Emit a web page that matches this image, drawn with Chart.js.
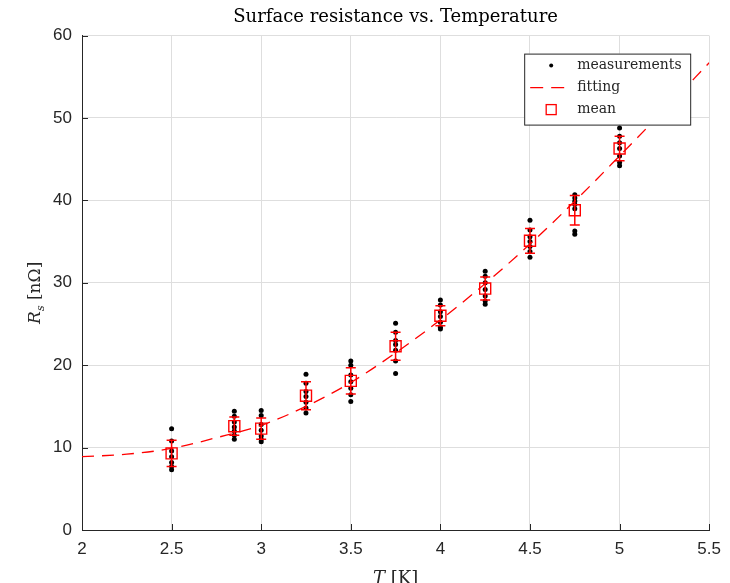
<!DOCTYPE html>
<html>
<head>
<meta charset="utf-8">
<title>Surface resistance vs. Temperature</title>
<script src="https://cdn.jsdelivr.net/npm/chart.js@4.4.1/dist/chart.umd.min.js"></script>
<style>
  html, body { margin: 0; padding: 0; background: #fff; }
  #wrap { width: 730px; height: 583px; }
</style>
</head>
<body>
<div id="wrap"><canvas id="rsChart" width="730" height="583"></canvas></div>
<script>
// Data
const chartTitle = 'Surface resistance vs. Temperature';
const temperatures = [2.5, 2.85, 3.0, 3.25, 3.5, 3.75, 4.0, 4.25, 4.5, 4.75, 5.0];
const measurements = [
  [12.3, 10.8, 9.6, 8.9, 8.2, 7.7, 7.3],
  [14.4, 13.8, 13.1, 12.5, 12.0, 11.5, 11.0],
  [14.5, 13.9, 12.8, 12.1, 11.4, 11.0, 10.7],
  [18.9, 17.8, 16.8, 16.2, 15.5, 14.8, 14.2],
  [20.5, 20.0, 18.8, 18.0, 17.2, 16.4, 15.6],
  [25.1, 24.0, 23.0, 22.5, 21.8, 20.5, 19.0],
  [27.9, 27.3, 26.5, 25.9, 25.2, 24.6, 24.4],
  [31.4, 30.8, 30.0, 29.2, 28.4, 27.8, 27.4],
  [37.6, 36.4, 35.6, 35.0, 34.4, 33.8, 33.1],
  [40.7, 40.3, 39.9, 39.5, 39.0, 36.3, 35.9],
  [48.8, 47.8, 47.0, 46.3, 45.4, 44.6, 44.2]
];
const meanValues = [9.3, 12.6, 12.3, 16.3, 18.1, 22.3, 26.0, 29.3, 35.1, 38.8, 46.3];
const meanErrors = [1.6, 1.1, 1.3, 1.7, 1.6, 1.7, 1.2, 1.4, 1.5, 1.8, 1.5];
const fitTemperatures = [2, 2.25, 2.5, 2.75, 3, 3.25, 3.5, 3.75, 4, 4.25, 4.5, 4.75, 5, 5.25, 5.5];
const fitValues = [8.9, 9.2, 9.9, 11.2, 12.7, 15.0, 17.9, 21.5, 25.5, 29.9, 34.7, 39.9, 45.4, 51.0, 56.7];
const xTicks = [2, 2.5, 3, 3.5, 4, 4.5, 5, 5.5];
const yTicks = [0, 10, 20, 30, 40, 50, 60];

const RED = '#ff0000';
const AXIS = '#262626';
const GRID = '#dedede';
const serif = '"DejaVu Serif", serif';
const sans = '"Liberation Sans", Arial, sans-serif';

// Error bars on the mean markers
const errorBars = {
  id: 'errorBars',
  afterDatasetsDraw(chart) {
    const { ctx, scales: { x, y } } = chart;
    ctx.save();
    ctx.strokeStyle = RED;
    ctx.lineWidth = 1.5;
    ctx.beginPath();
    temperatures.forEach((t, i) => {
      const px = x.getPixelForValue(t);
      const top = y.getPixelForValue(meanValues[i] + meanErrors[i]);
      const bot = y.getPixelForValue(meanValues[i] - meanErrors[i]);
      ctx.moveTo(px, top); ctx.lineTo(px, bot);
      ctx.moveTo(px - 5, top); ctx.lineTo(px + 5, top);
      ctx.moveTo(px - 5, bot); ctx.lineTo(px + 5, bot);
    });
    ctx.stroke();
    ctx.restore();
  }
};

// MATLAB style ticks pointing inwards, axis labels and legend box
const decorations = {
  id: 'decorations',
  afterDraw(chart) {
    const { ctx, chartArea: a, scales: { x, y } } = chart;
    ctx.save();
    ctx.strokeStyle = AXIS;
    ctx.lineWidth = 1;
    ctx.beginPath();
    xTicks.forEach(v => {
      const px = Math.round(x.getPixelForValue(v)) + 0.5;
      ctx.moveTo(px, a.bottom); ctx.lineTo(px, a.bottom - 6);
    });
    yTicks.forEach(v => {
      const py = Math.round(y.getPixelForValue(v)) + 0.5;
      ctx.moveTo(a.left, py); ctx.lineTo(a.left + 6, py);
    });
    ctx.stroke();

    // x axis title: T [K]
    ctx.fillStyle = AXIS;
    ctx.textBaseline = 'top';
    const cx = (a.left + a.right) / 2;
    ctx.font = 'italic 18px ' + serif;
    const wT = ctx.measureText('T').width;
    ctx.font = '18px ' + serif;
    const wRest = ctx.measureText(' [K]').width;
    let sx = cx - (wT + wRest) / 2;
    ctx.textAlign = 'left';
    ctx.font = 'italic 18px ' + serif;
    ctx.fillText('T', sx, a.bottom + 40);
    ctx.font = '18px ' + serif;
    ctx.fillText(' [K]', sx + wT, a.bottom + 40);

    // y axis title: R_s [nΩ]
    ctx.save();
    ctx.translate(36, (a.top + a.bottom) / 2 + 10);
    ctx.rotate(-Math.PI / 2);
    ctx.textBaseline = 'middle';
    ctx.font = 'italic 17px ' + serif;
    const wR = ctx.measureText('R').width;
    ctx.font = 'italic 11px ' + serif;
    const wS = ctx.measureText('s').width;
    ctx.font = '17px ' + serif;
    const wU = ctx.measureText(' [nΩ]').width;
    let ox = -(wR + wS + wU) / 2;
    ctx.font = 'italic 17px ' + serif;
    ctx.fillText('R', ox, 0);
    ctx.font = 'italic 11px ' + serif;
    ctx.fillText('s', ox + wR, 5);
    ctx.font = '17px ' + serif;
    ctx.fillText(' [nΩ]', ox + wR + wS, 0);
    ctx.restore();

    // legend
    const lx = a.right - 185, ly = a.top + 18, lw = 166, lh = 71;
    ctx.fillStyle = '#fff';
    ctx.fillRect(lx, ly, lw, lh);
    ctx.strokeStyle = AXIS;
    ctx.strokeRect(lx + 0.5, ly + 0.5, lw, lh);
    const rows = [ly + 12, ly + 34, ly + 56];
    ctx.fillStyle = '#000';
    ctx.beginPath();
    ctx.arc(lx + 27, rows[0], 2, 0, Math.PI * 2);
    ctx.fill();
    ctx.strokeStyle = RED;
    ctx.lineWidth = 1.3;
    ctx.setLineDash([13, 8]);
    ctx.beginPath();
    ctx.moveTo(lx + 6, rows[1]); ctx.lineTo(lx + 43, rows[1]);
    ctx.stroke();
    ctx.setLineDash([]);
    ctx.strokeRect(lx + 22, rows[2] - 5, 10, 10);
    ctx.fillStyle = AXIS;
    ctx.font = '14px ' + serif;
    ctx.textBaseline = 'middle';
    ctx.fillText('measurements', lx + 53, rows[0]);
    ctx.fillText('fitting', lx + 53, rows[1]);
    ctx.fillText('mean', lx + 53, rows[2]);
    ctx.restore();
  }
};

const measurementPoints = [];
temperatures.forEach((t, i) => {
  measurements[i].forEach(v => measurementPoints.push({ x: t, y: v }));
});

new Chart(document.getElementById('rsChart'), {
  type: 'scatter',
  data: {
    datasets: [
      {
        label: 'mean',
        data: temperatures.map((t, i) => ({ x: t, y: meanValues[i] })),
        pointStyle: 'rect',
        pointRadius: 7.8,
        pointBorderWidth: 1.4,
        pointBorderColor: RED,
        pointBackgroundColor: 'rgba(0,0,0,0)'
      },
      {
        label: 'fitting',
        type: 'line',
        data: fitTemperatures.map((t, i) => ({ x: t, y: fitValues[i] })),
        showLine: true,
        borderColor: RED,
        borderWidth: 1.3,
        borderDash: [12, 8],
        cubicInterpolationMode: 'monotone',
        pointRadius: 0,
        fill: false
      },
      {
        label: 'measurements',
        data: measurementPoints,
        pointRadius: 2.5,
        pointBorderWidth: 0,
        pointBackgroundColor: '#000'
      }
    ]
  },
  options: {
    responsive: false,
    animation: false,
    devicePixelRatio: 1,
    layout: { padding: { left: 0, right: 20, top: 0, bottom: 0 } },
    plugins: {
      legend: { display: false },
      tooltip: { enabled: false },
      title: {
        display: true,
        text: chartTitle,
        fullSize: false,
        color: '#000',
        font: { family: serif, size: 18, weight: 'normal' },
        padding: { top: 7, bottom: 7 }
      }
    },
    scales: {
      x: {
        type: 'linear',
        min: 2,
        max: 5.5,
        afterBuildTicks: s => { s.ticks = xTicks.map(v => ({ value: v })); },
        afterFit: s => { s.height = 53; },
        grid: { color: GRID, drawTicks: false },
        border: { color: AXIS, width: 1 },
        ticks: {
          color: AXIS,
          padding: 9,
          font: { family: sans, size: 17 },
          callback: v => String(v)
        }
      },
      y: {
        type: 'linear',
        min: 0,
        max: 60,
        afterBuildTicks: s => { s.ticks = yTicks.map(v => ({ value: v })); },
        afterFit: s => { s.width = 82; },
        grid: { color: GRID, drawTicks: false },
        border: { color: AXIS, width: 1 },
        ticks: {
          color: AXIS,
          padding: 10,
          font: { family: sans, size: 17 },
          callback: v => String(v)
        }
      }
    }
  },
  plugins: [errorBars, decorations]
});
</script>
</body>
</html>
